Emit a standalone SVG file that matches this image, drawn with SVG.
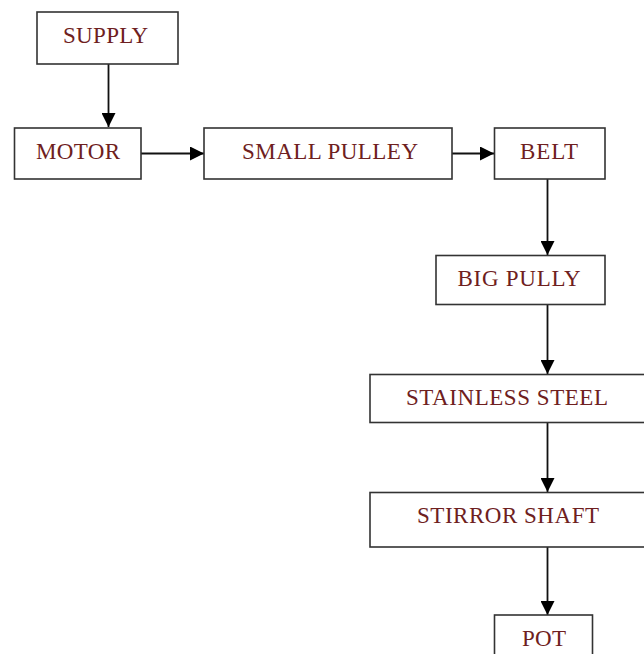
<svg xmlns="http://www.w3.org/2000/svg" width="644" height="654" viewBox="0 0 644 654">
<defs>
<style>
.box{fill:#fff;stroke:#333;stroke-width:1.6}
.lbl{font-family:"Liberation Serif","Times New Roman",serif;font-size:23px;fill:#6e2020;text-anchor:middle}
.con{stroke:#111;stroke-width:1.8;fill:none}
</style>
<marker id="ah" markerUnits="userSpaceOnUse" markerWidth="14" markerHeight="14" viewBox="0 0 14 14" refX="14" refY="7" orient="auto">
<path d="M0,0 L14,7 L0,14 Z" fill="#000"/>
</marker>
</defs>
<rect width="644" height="654" fill="#fff"/>
<g id="connectors">
<line class="con" x1="108.5" y1="64" x2="108.5" y2="127" marker-end="url(#ah)"/>
<line class="con" x1="141" y1="153.5" x2="204" y2="153.5" marker-end="url(#ah)"/>
<line class="con" x1="452" y1="153.5" x2="494" y2="153.5" marker-end="url(#ah)"/>
<line class="con" x1="547.5" y1="179" x2="547.5" y2="255" marker-end="url(#ah)"/>
<line class="con" x1="547.5" y1="305" x2="547.5" y2="374" marker-end="url(#ah)"/>
<line class="con" x1="547.5" y1="423" x2="547.5" y2="492" marker-end="url(#ah)"/>
<line class="con" x1="547.5" y1="547" x2="547.5" y2="615" marker-end="url(#ah)"/>
</g>
<g id="supply"><rect class="box" x="37" y="12" width="141" height="52"/><text class="lbl" x="105.5" y="43" textLength="85">SUPPLY</text></g>
<g id="motor"><rect class="box" x="14.5" y="128" width="126.5" height="51"/><text class="lbl" x="78" y="159" textLength="84">MOTOR</text></g>
<g id="small-pulley"><rect class="box" x="204" y="128" width="248" height="51"/><text class="lbl" x="330" y="158.5" textLength="176">SMALL PULLEY</text></g>
<g id="belt"><rect class="box" x="494.5" y="128" width="110.5" height="51"/><text class="lbl" x="549" y="159" textLength="58">BELT</text></g>
<g id="big-pully"><rect class="box" x="436" y="255.5" width="169" height="49"/><text class="lbl" x="519" y="286" textLength="123">BIG PULLY</text></g>
<g id="stainless-steel"><rect class="box" x="370" y="374.5" width="280" height="48"/><text class="lbl" x="507" y="405" textLength="202">STAINLESS STEEL</text></g>
<g id="stirror-shaft"><rect class="box" x="370" y="492.5" width="280" height="54.5"/><text class="lbl" x="508" y="523" textLength="182">STIRROR SHAFT</text></g>
<g id="pot"><rect class="box" x="494.5" y="615" width="98" height="50"/><text class="lbl" x="544" y="645.5" textLength="44">POT</text></g>
</svg>
